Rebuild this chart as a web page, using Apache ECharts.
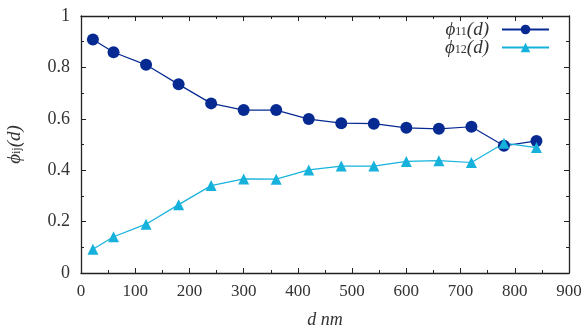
<!DOCTYPE html>
<html><head><meta charset="utf-8">
<script src="https://cdn.jsdelivr.net/npm/echarts@6/dist/echarts.min.js"></script>
<style>html,body{margin:0;padding:0;background:#fff}#c{width:585px;height:332px}</style>
</head><body><div id="c"></div>
<script>
var xValues = [22, 60, 120, 180, 240, 300, 360, 420, 480, 540, 600, 660, 720, 780, 840];
var phi11 = [0.909, 0.859, 0.81, 0.734, 0.66, 0.634, 0.634, 0.599, 0.583, 0.581, 0.565, 0.561, 0.569, 0.495, 0.514];
var phi12 = [0.092, 0.141, 0.19, 0.266, 0.34, 0.366, 0.365, 0.401, 0.416, 0.416, 0.434, 0.437, 0.43, 0.505, 0.488];
var xTicks = [0, 100, 200, 300, 400, 500, 600, 700, 800, 900];
var yTicks = [0, 0.2, 0.4, 0.6, 0.8, 1];

var F = 'Liberation Serif';
function pairs(ys){ return xValues.map(function(x,i){ return [x, ys[i]]; }); }
var chart = echarts.init(document.getElementById('c'), null, {renderer:'canvas'});
function axisCommon(){ return {
  axisLine:{show:true, onZero:false, lineStyle:{color:'#222', width:1.3}},
  axisTick:{show:true, inside:true, length:5, lineStyle:{color:'#222', width:1}},
  minorTick:{show:true, splitNumber:2, length:3, lineStyle:{color:'#222', width:1}},
  splitLine:{show:false}
};}
var rich = {
  p:{fontFamily:F, fontStyle:'italic', fontSize:19, color:'#333', lineHeight:16},
  s:{fontFamily:F, fontSize:12, color:'#333', verticalAlign:'bottom', lineHeight:12},
  n:{fontFamily:F, fontStyle:'italic', fontSize:19, color:'#333', lineHeight:16}
};
chart.setOption({
  animation:false,
  backgroundColor:'#fff',
  grid:{left:81, right:16, top:16, bottom:59, containLabel:false, outerBoundsMode:'none'},
  legend:{
    right:30, top:15, orient:'vertical', align:'right', itemWidth:47, itemHeight:12, itemGap:-1,
    data:['phi11','phi12'],
    formatter:function(n){ return n==='phi11' ? '{p|ϕ}{s|11}{n|(d)}' : '{p|ϕ}{s|12}{n|(d)}'; },
    textStyle:{rich:rich, padding:[0,8,0,0], lineHeight:16}
  },
  xAxis:[
    Object.assign({type:'value', min:0, max:900, interval:100, position:'bottom',
      axisLabel:{fontFamily:F, fontSize:17, color:'#333', margin:10},
      name:'d nm', nameLocation:'middle', nameGap:38,
      nameTextStyle:{fontFamily:F, fontStyle:'italic', fontSize:18, color:'#333'}}, axisCommon()),
    Object.assign({type:'value', min:0, max:900, interval:100, position:'top', axisLabel:{show:false}}, axisCommon())
  ],
  yAxis:[
    Object.assign({type:'value', min:0, max:1, interval:0.2, position:'left',
      axisLabel:{fontFamily:F, fontSize:18, color:'#333', margin:11},
      name:'{p|ϕ}{s|ij}{n|(d)}', nameLocation:'middle', nameGap:58,
      nameTextStyle:{rich:rich}}, axisCommon()),
    Object.assign({type:'value', min:0, max:1, interval:0.2, position:'right', axisLabel:{show:false}}, axisCommon())
  ],
  series:[
    {name:'phi11', type:'line', data:pairs(phi11), symbol:'circle', symbolSize:12,
      itemStyle:{color:'#062a91'}, lineStyle:{color:'#062a91', width:1.2}},
    {name:'phi12', type:'line', data:pairs(phi12), symbol:'triangle', symbolSize:11,
      itemStyle:{color:'#16b2dc'}, lineStyle:{color:'#16b2dc', width:1.2}}
  ]
});
</script></body></html>
